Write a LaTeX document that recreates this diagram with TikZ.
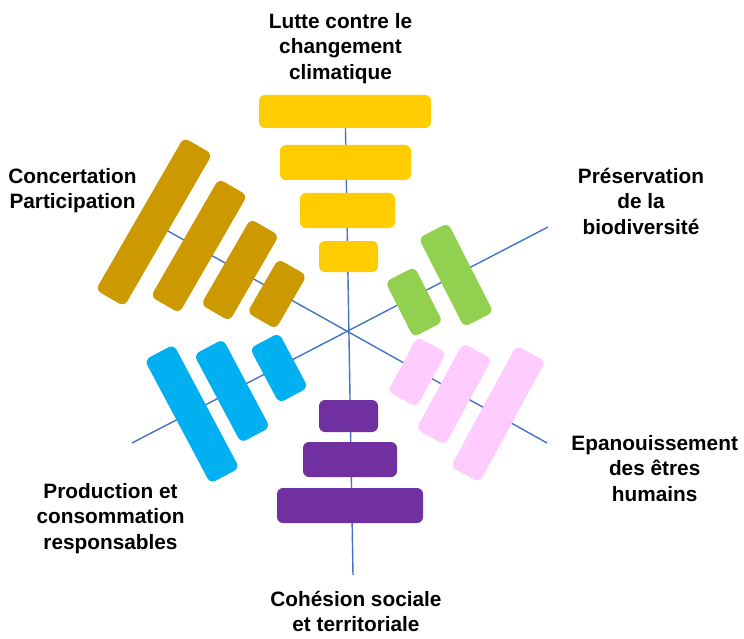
\documentclass[tikz,border=0pt]{standalone}
\usepackage{fontspec}
\setmainfont{Liberation Sans}
\definecolor{cYellow}{HTML}{FFCC00}
\definecolor{cGold}{HTML}{CC9900}
\definecolor{cGreen}{HTML}{92D050}
\definecolor{cPink}{HTML}{FFCCFF}
\definecolor{cBlue}{HTML}{00B0F0}
\definecolor{cPurple}{HTML}{7030A0}
\definecolor{cAxis}{HTML}{4472C4}
\begin{document}
\begin{tikzpicture}[x=1pt,y=-1pt]
    \tikzstyle{pillar} = [ shape=rectangle, rounded corners = 6pt, inner sep = 0pt, minimum height = 33pt ];
    \tikzstyle{spoke} = [ draw=cAxis, line width = 1.4pt ];
    \tikzstyle{theme} = [ align=center, anchor=north, inner sep=0pt, font=\fontsize{20.8}{25.5}\selectfont\bfseries ];

    \useasboundingbox (0,0) rectangle (744,639);

    % axes
    \coordinate (cTop) at (345,100);
    \coordinate (cBottom) at (353,575);
    \coordinate (cNorthEast) at (548,227);
    \coordinate (cSouthWest) at (132,443);
    \coordinate (cNorthWest) at (150,221);
    \coordinate (cSouthEast) at (547,443);
    \draw [spoke] (cTop) -- (cBottom);
    \draw [spoke] (cNorthEast) -- (cSouthWest);
    \draw [spoke] (cNorthWest) -- (cSouthEast);

    % climat
    \node (nYellowA) [pillar, fill=cYellow, minimum width=172pt] at (345,111.5) {};
    \node (nYellowB) [pillar, fill=cYellow, minimum width=131pt, minimum height=35pt] at (345.5,162.5) {};
    \node (nYellowC) [pillar, fill=cYellow, minimum width=95pt, minimum height=35pt] at (347.5,210.5) {};
    \node (nYellowD) [pillar, fill=cYellow, minimum width=59pt, minimum height=31pt] at (348.5,256.5) {};

    % concertation
    \node (nGoldA) [pillar, fill=cGold, minimum width=176pt, rotate=60] at (154,222) {};
    \node (nGoldB) [pillar, fill=cGold, minimum width=136pt, rotate=60] at (199,246) {};
    \node (nGoldC) [pillar, fill=cGold, minimum width=99pt, rotate=60] at (240,270) {};
    \node (nGoldD) [pillar, fill=cGold, minimum width=62pt, rotate=60] at (277,294) {};

    % biodiversite
    \node (nGreenA) [pillar, fill=cGreen, minimum width=100pt, rotate=-63] at (456,275) {};
    \node (nGreenB) [pillar, fill=cGreen, minimum width=62pt, rotate=-63] at (414,302) {};

    % epanouissement
    \node (nPinkA) [pillar, fill=cPink, minimum width=138pt, rotate=61.5] at (498,414) {};
    \node (nPinkB) [pillar, fill=cPink, minimum width=98pt, rotate=61.5] at (454,394) {};
    \node (nPinkC) [pillar, fill=cPink, minimum width=62pt, rotate=61.5] at (417,372) {};

    % production
    \node (nBlueA) [pillar, fill=cBlue, minimum width=140pt, rotate=-62] at (192,414) {};
    \node (nBlueB) [pillar, fill=cBlue, minimum width=100pt, rotate=-62] at (232,391) {};
    \node (nBlueC) [pillar, fill=cBlue, minimum width=62pt, rotate=-62] at (279,368) {};

    % cohesion
    \node (nPurpleA) [pillar, fill=cPurple, minimum width=146pt, minimum height=35pt] at (350,505.5) {};
    \node (nPurpleB) [pillar, fill=cPurple, minimum width=94pt, minimum height=35pt] at (350,459.5) {};
    \node (nPurpleC) [pillar, fill=cPurple, minimum width=59pt, minimum height=32pt] at (348.5,416) {};

    % titres
    \node (nClimat) [theme] at (340.5,13) {Lutte contre le\\changement\\climatique};
    \node (nConcert) [theme] at (72.5,168) {Concertation\\Participation};
    \node (nBiodiv) [theme] at (641,168) {Préservation\\de la\\biodiversité};
    \node (nEpanou) [theme] at (654.7,435) {Epanouissement\\des êtres\\humains};
    \node (nProd) [theme] at (110.5,483) {Production et\\consommation\\responsables};
    \node (nCohesion) [theme] at (356,591) {Cohésion sociale\\et territoriale};
\end{tikzpicture}
\end{document}
